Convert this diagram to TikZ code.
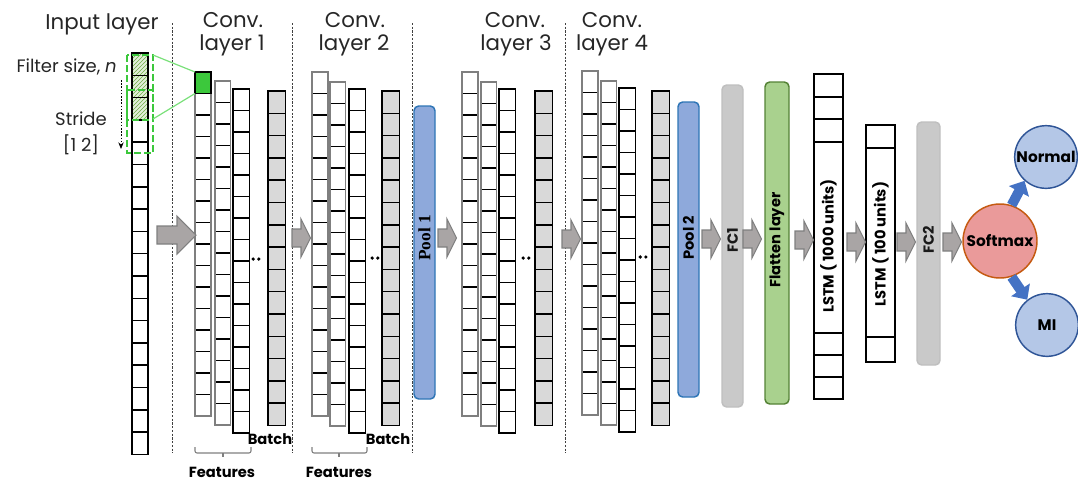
\documentclass[tikz,border=0pt]{standalone}
\usepackage{fontspec}
\setmainfont{Poppins}
\newfontfamily\serifbold{Liberation Serif}
\usetikzlibrary{patterns,arrows.meta}

\definecolor{batchgray}{HTML}{D9D9D9}
\definecolor{arrgray}{HTML}{A9A5A5}
\definecolor{arredge}{HTML}{7F7F7F}
\definecolor{poolfill}{HTML}{8EA9DB}
\definecolor{pooledge}{HTML}{2E75B6}
\definecolor{fcfill}{HTML}{C9C9C9}
\definecolor{fcedge}{HTML}{BFBFBF}
\definecolor{flatfill}{HTML}{A9D18E}
\definecolor{flatedge}{HTML}{548235}
\definecolor{smfill}{HTML}{EA9A9A}
\definecolor{smedge}{HTML}{C55A11}
\definecolor{outfill}{HTML}{B4C7E7}
\definecolor{outedge}{HTML}{2F5597}
\definecolor{outarrow}{HTML}{4472C4}
\definecolor{kernel}{HTML}{3CC83C}
\definecolor{hatchbg}{HTML}{E2EFDA}
\definecolor{hatchline}{HTML}{70AD47}
\definecolor{linkgreen}{HTML}{7AE07A}
\definecolor{textdark}{HTML}{262626}
\definecolor{fctext}{HTML}{1A1A1A}

% one column of cells: style, x left, y top, width, cell height, number of cells
\newcommand\cellcol[6]{%
  \draw[#1] (#2,#3) rectangle ({#2+#4},{#3+#5*#6});
  \foreach \k in {1,...,#6}{\ifnum\k<#6 \draw[divline] (#2,{#3+\k*#5}) -- ({#2+#4},{#3+\k*#5});\fi}
  \draw[#1,fill=none] (#2,#3) rectangle ({#2+#4},{#3+#5*#6});
}
% grey block arrow: tail coordinate, total length, head length
\newcommand\blockarrow[3]{%
  \draw[garrow] (#1) ++(0,-9) -- ++({#2-#3},0) -- ++(0,-10) -- ++(#3,19)
    -- ++(-#3,19) -- ++(0,-10) -- ++({#3-#2},0) -- cycle;
}
% three feature maps, dots and a batch-norm column
\newcommand\convgroup[9]{%
  \cellcol{featgray}{#1}{#2}{16}{21.5}{16}
  \cellcol{featgray}{#3}{#4}{15.5}{21.5}{16}
  \cellcol{featblack}{#5}{#6}{16.5}{21.5}{16}
  \fill ({#7-2.8},#8) circle (1.8) ({#7+2.8},#8) circle (1.8);
  \cellcol{batchcol}{#9}{91}{17.5}{22.3}{15}
}

\begin{document}
\begin{tikzpicture}[x=0.75pt,y=-0.75pt,
  divline/.style={black,line width=1.1pt},
  featgray/.style={draw=arredge,line width=0.9pt,fill=white},
  featblack/.style={draw=black,line width=1.1pt,fill=white},
  batchcol/.style={draw=black,line width=1.4pt,fill=batchgray},
  inputcol/.style={draw=black,line width=1.1pt},
  lstmcol/.style={draw=black,line width=1.4pt,fill=white},
  garrow/.style={draw=arredge,fill=arrgray,line width=0.8pt},
  sep/.style={draw=black!75,line width=0.7pt,dash pattern=on 1.6pt off 1.2pt},
  title/.style={anchor=base,inner sep=0pt,text=textdark,font=\fontsize{16}{18}\selectfont},
  note/.style={anchor=base,inner sep=0pt,text=textdark,font=\fontsize{13.5}{16}\selectfont},
  boldlab/.style={anchor=base,inner sep=0pt,font=\bfseries\fontsize{11}{13}\selectfont},
  vlab/.style={rotate=90,inner sep=0pt,font=\bfseries\fontsize{11}{12}\selectfont},
  fclab/.style={rotate=90,inner sep=0pt,text=fctext,font=\bfseries\fontsize{11}{12}\selectfont},
  slimbox/.style={rounded corners=3.5pt,line width=1.1pt,inner sep=0pt},
  circ/.style={circle,line width=1.1pt,inner sep=0pt,font=\bfseries\fontsize{11.5}{12}\selectfont},
  outarr/.style={outarrow,line width=7.5pt,-{Triangle[width=16.5pt,length=9pt]}},
  brace/.style={draw=arredge,line width=0.8pt,rounded corners=1.5pt}
]
\useasboundingbox (0,0) rectangle (1078,483);

% layer separators
\foreach \sx in {172,292,412,565}
  \draw[sep] (\sx,23) -- (\sx,453);

% titles
\node[title] (tin) at (102,29) {Input layer};
\node[title] (tc1a) at (233,27) {Conv.};
\node[title] (tc1b) at (232,50) {layer 1};
\node[title] (tc2a) at (355,27) {Conv.};
\node[title] (tc2b) at (354,50) {layer 2};
\node[title] (tc3a) at (515,27) {Conv.};
\node[title] (tc3b) at (516,50) {layer 3};
\node[title] (tc4a) at (612,27) {Conv.};
\node[title] (tc4b) at (612,50) {layer 4};

\node[note,anchor=base east] (tfilter) at (117,72) {Filter size, \textit{n}};
\node[note] (tstride) at (81,125) {Stride};
\node[note] (tstep) at (81,151) {[1 2]};
\coordinate (strtop) at (121,80);
\coordinate (strbot) at (121,149);
\draw[black,line width=0.7pt,dash pattern=on 1.2pt off 1.2pt,-{Stealth[length=5pt,width=4pt]}] (strtop) -- (strbot);

% input signal with the sliding kernel
\fill[hatchbg] (132,53) rectangle (148,120);
\fill[pattern=north east lines,pattern color=hatchline] (132,53) rectangle (148,120);
\cellcol{inputcol}{132}{53}{16}{22.3}{18}
\draw[kernel,line width=1.4pt,dash pattern=on 5pt off 2.5pt] (127,55) rectangle (153,120);
\draw[kernel,line width=1.4pt,dash pattern=on 5pt off 2.5pt] (127,90) rectangle (153,153);

% convolution layers
\convgroup{195}{72}{215}{81}{233}{89}{256}{259}{268}
\convgroup{312}{72}{330}{82}{349}{89}{375}{258}{382}
\convgroup{462}{72}{481}{82}{499}{89}{526}{258}{535}
\convgroup{582}{71}{601}{81}{619}{88}{643}{257}{652}

% first output value of the kernel
\filldraw[fill=kernel,draw=black,line width=1.1pt] (195,72) rectangle (211,93.5);
\coordinate (kin1) at (153,55);
\coordinate (kin2) at (153,119);
\coordinate (kout1) at (195,72);
\coordinate (kout2) at (195,93.5);
\draw[linkgreen,line width=0.9pt] (kin1) -- (kout1);
\draw[linkgreen,line width=0.9pt] (kin2) -- (kout2);

% batch / features annotations
\node[boldlab] (b1) at (270,444) {Batch};
\node[boldlab] (b2) at (388,444) {Batch};
\draw[brace] (195,447) -- (195,453) -- (251,453) -- (251,447);
\draw[brace] (223,453) -- (223,457);
\draw[brace] (312,447) -- (312,453) -- (367,453) -- (367,447);
\draw[brace] (339,453) -- (339,457);
\node[boldlab] (f1) at (222,477) {Features};
\node[boldlab] (f2) at (339,477) {Features};

% pooling, dense and flatten blocks
\node[slimbox,draw=pooledge,fill=poolfill,minimum width=15.75pt,minimum height=219.75pt] (pool1) at (424.5,252.5) {};
\node[vlab,font=\serifbold\bfseries\fontsize{13}{14}\selectfont] (pool1t) at (424.5,238) {Pool 1};
\node[slimbox,draw=pooledge,fill=poolfill,minimum width=15.75pt,minimum height=221.25pt] (pool2) at (688.5,249.5) {};
\node[vlab] (pool2t) at (688.5,238) {Pool 2};
\node[slimbox,draw=fcedge,fill=fcfill,minimum width=15.75pt,minimum height=241.5pt] (fc1) at (732.5,246) {};
\node[fclab] (fc1t) at (732.5,240) {FC1};
\node[slimbox,draw=flatedge,fill=flatfill,minimum width=18pt,minimum height=241.5pt] (flat) at (777,243) {};
\node[vlab] (flatt) at (777,240) {Flatten layer};

% recurrent layers
\cellcol{lstmcol}{814}{74}{29}{325}{1}
\foreach \yy in {97,119,142,333,355,377} \draw[divline,line width=1.4pt] (814,\yy) -- (843,\yy);
\node[vlab] (lstm1) at (828.5,246) {LSTM ( 1000 units)};
\cellcol{lstmcol}{866}{125}{29}{237}{1}
\foreach \yy in {148,337} \draw[divline,line width=1.4pt] (866,\yy) -- (895,\yy);
\node[vlab] (lstm2) at (880.5,244) {LSTM ( 100 units)};

\node[slimbox,draw=fcedge,fill=fcfill,minimum width=17.25pt,minimum height=182.25pt] (fc2) at (928.5,243.5) {};
\node[fclab] (fc2t) at (928.5,240) {FC2};

% classifier
\node[circ,draw=smedge,fill=smfill,minimum size=55.5pt] (sm) at (1000,241) {Softmax};
\node[circ,draw=outedge,fill=outfill,minimum size=47pt] (nrm) at (1046,157) {Normal};
\node[circ,draw=outedge,fill=outfill,minimum size=47pt] (mi) at (1047,325) {MI};
\draw[outarr] (sm.72) -- (nrm.228);
\draw[outarr] (sm.-72) -- (mi.128);

% grey flow arrows
\coordinate (a0) at (157,235);
\coordinate (a1) at (292,238);
\coordinate (a2) at (438,238);
\coordinate (a3) at (562,239);
\coordinate (a4) at (702,239);
\coordinate (a5) at (743,239);
\coordinate (a6) at (795,240);
\coordinate (a7) at (847,242);
\coordinate (a8) at (897,242);
\coordinate (a9) at (943,242);
\blockarrow{a0}{39}{19}
\foreach \c in {a1,a2,a3,a4,a5,a6,a7,a8,a9} {\blockarrow{\c}{18.5}{9.5}}
\end{tikzpicture}
\end{document}
